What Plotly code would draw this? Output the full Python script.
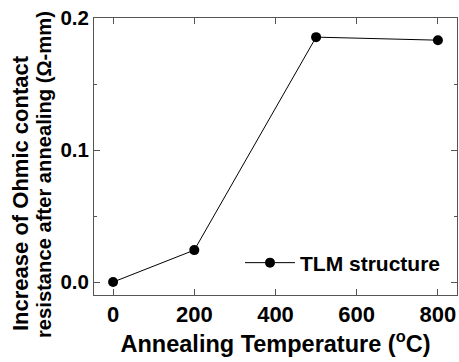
import plotly.graph_objects as go

temps = [0, 200, 500, 800]
delta_r = [0.0, 0.0242, 0.1855, 0.1832]
series_name = "TLM structure"
x_ticks = [0, 200, 400, 600, 800]
y_ticks = [0.0, 0.1, 0.2]

FONT = "Liberation Sans, Arial, sans-serif"
AX = "#555555"

fig = go.Figure()
fig.add_trace(go.Scatter(
    x=temps, y=delta_r, mode="lines+markers", name=f"<b>{series_name}</b>",
    line=dict(color="black", width=1),
    marker=dict(color="black", size=10),
))

L, R, T, B = 94, 2, 18, 67
W, H = 459, 362
pw, ph = W - L - R, H - T - B

fig.update_layout(
    width=W, height=H,
    margin=dict(l=L, r=R, t=T, b=B),
    paper_bgcolor="white", plot_bgcolor="white",
    font=dict(family=FONT, color="black"),
    showlegend=True,
    legend=dict(
        x=(240 - L) / pw, y=(295 - 263) / ph, xanchor="left", yanchor="middle",
        bgcolor="rgba(0,0,0,0)", font=dict(size=21, family=FONT),
        itemwidth=50,
    ),
)
fig.update_xaxes(
    range=[-47, 847], tickvals=x_ticks, ticktext=[f"<b>{v}</b>" for v in x_ticks],
    ticks="inside", ticklen=6, tickcolor=AX, tickwidth=1,
    showline=True, linecolor=AX, linewidth=1, mirror="ticks",
    showgrid=False, zeroline=False,
    tickfont=dict(size=22, family=FONT),
    title=dict(text="<b>Annealing Temperature (<sup>o</sup>C)</b>",
               font=dict(size=23.5, family=FONT), standoff=3),
)
fig.update_yaxes(
    range=[-0.0098, 0.2], tickvals=y_ticks, ticktext=[f"<b>{v:.1f}</b>" for v in y_ticks],
    ticks="inside", ticklen=6, tickcolor=AX, tickwidth=1,
    minor=dict(dtick=0.05, tick0=0, ticks="inside", ticklen=3, tickcolor=AX, showgrid=False),
    showline=True, linecolor=AX, linewidth=1, mirror="ticks",
    showgrid=False, zeroline=False,
    tickfont=dict(size=20.5, family=FONT),
)

ytitle_lines = ["Increase of Ohmic contact", "resistance after annealing (\u03a9-mm)"]
xcenters = [20, 44]
ycenters = [193, 175]
ysizes = [22, 20.2]
for txt, xc, yc, sz in zip(ytitle_lines, xcenters, ycenters, ysizes):
    fig.add_annotation(
        text=f"<b>{txt}</b>", textangle=-90, showarrow=False,
        xref="paper", yref="paper",
        x=(xc - L) / pw, y=(295 - yc) / ph,
        xanchor="center", yanchor="middle",
        font=dict(size=sz, family=FONT, color="black"),
    )

fig.write_html("out.html")
